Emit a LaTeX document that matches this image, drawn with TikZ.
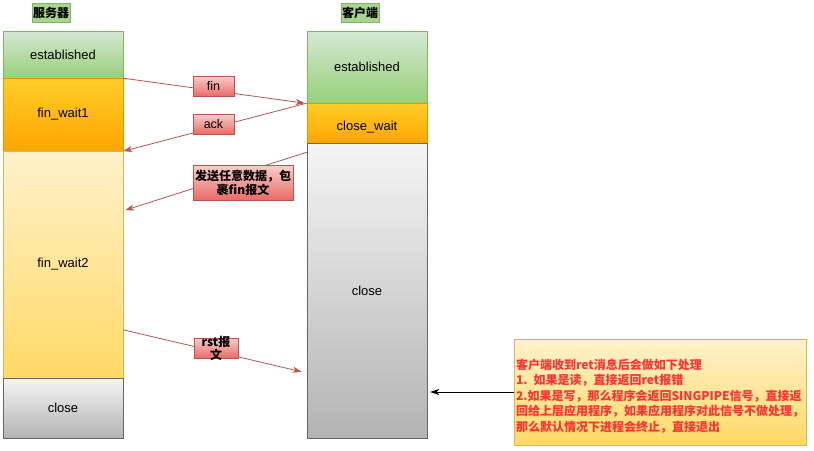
\documentclass[tikz,border=0pt]{standalone}
\usepackage{fontspec}
\setmainfont{Liberation Sans}
\newfontfamily\cjk{Noto Sans CJK SC}
\usetikzlibrary{arrows.meta,calc}
\definecolor{gtop}{HTML}{D5E8D4}
\definecolor{gbot}{HTML}{97D077}
\definecolor{gstroke}{HTML}{82B366}
\definecolor{otop}{HTML}{FFCD28}
\definecolor{obot}{HTML}{FFA500}
\definecolor{ostroke}{HTML}{D79B00}
\definecolor{ytop}{HTML}{FFF2CC}
\definecolor{ybot}{HTML}{FFD966}
\definecolor{ystroke}{HTML}{D6B656}
\definecolor{ktop}{HTML}{F5F5F5}
\definecolor{kbot}{HTML}{B3B3B3}
\definecolor{kstroke}{HTML}{666666}
\definecolor{rtop}{HTML}{F8CECC}
\definecolor{rbot}{HTML}{EA6B66}
\definecolor{rstroke}{HTML}{B85450}
\definecolor{notetext}{HTML}{FF3333}
\begin{document}
\begin{tikzpicture}[x=1pt,y=-1pt,
  statebox/.style={draw, minimum width=120pt, inner sep=0pt, font=\fontsize{13}{15}\selectfont},
  greenbox/.style={statebox, top color=gtop, bottom color=gbot, draw=gstroke},
  orangebox/.style={statebox, top color=otop, bottom color=obot, draw=ostroke},
  yellowbox/.style={statebox, top color=ytop, bottom color=ybot, draw=ystroke},
  greybox/.style={statebox, top color=ktop, bottom color=kbot, draw=kstroke},
  titlebox/.style={draw=gstroke, fill=gbot!75!gtop, minimum width=38pt, minimum height=19pt, inner sep=0pt, font=\cjk\bfseries\fontsize{12}{14}\selectfont},
  msgbox/.style={draw=rstroke, top color=rtop, bottom color=rbot, inner sep=0pt, font=\cjk\bfseries\fontsize{12}{14}\selectfont, align=center},
  redarrow/.style={draw=rstroke, line width=0.8pt, -{Stealth[length=9pt,width=6pt,inset=2.5pt]}},
  notebox/.style={draw=ystroke, top color=ytop, bottom color=ybot, minimum width=292pt, minimum height=106pt, inner sep=0pt},
  notetextstyle/.style={inner sep=0pt, text width=288pt, align=left, text=notetext, font=\cjk\bfseries\fontsize{12}{15.5}\selectfont}
]
\useasboundingbox (0,0) rectangle (814,450);

% titles
\node[titlebox] (tserver) at (51,12.5) {服务器};
\node[titlebox] (tclient) at (360,12.5) {客户端};

% server states
\node[greenbox, minimum height=47pt] (sest) at (63,54.5) {established};
\node[orangebox, minimum height=73pt] (sfw1) at (63,114.5) {fin\_wait1};
\node[yellowbox, minimum height=227pt] (sfw2) at (63,264.5) {fin\_wait2};
\node[greybox, minimum height=60pt] (sclose) at (63,408) {close};

% client states
\node[greenbox, minimum height=72pt] (cest) at (367,67) {established};
\node[orangebox, minimum height=40pt, label={[yshift=-4pt, font=\fontsize{13}{15}\selectfont]center:close\_wait}] (ccw) at (367,123) {};
\node[greybox, minimum height=295pt] (cclose) at (367,290.5) {close};

% arrows
\coordinate (finend) at ($(cest.south west)+(-2,0)$);
\draw[redarrow] (sest.south east) -- (finend);
\draw[redarrow] (cest.south west) -- (sfw1.south east);
\coordinate (datastart) at ($(ccw.south west)+(0,9)$);
\coordinate (dataend) at ($(sfw1.south east)+(2,59)$);
\draw[redarrow] (datastart) -- (dataend);
\coordinate (rststart) at ($(sfw2.north east)+(0,179)$);
\coordinate (rstend) at ($(cclose.north west)+(-5,229)$);
\draw[redarrow] (rststart) -- (rstend);

% message labels
\node[msgbox, minimum width=41pt, minimum height=20pt, font=\fontsize{12.5}{14}\selectfont] (lfin) at (213.5,86) {fin};
\node[msgbox, minimum width=41pt, minimum height=20pt, font=\fontsize{12.5}{14}\selectfont] (lack) at (213.5,124) {ack};
\node[msgbox, minimum width=100pt, minimum height=35pt] (ldata) at (243,182.5) {发送任意数据，包\\裹fin报文};
\node[msgbox, minimum width=44pt, minimum height=20pt] (lrst) at (216,348) {};
\node[font=\cjk\bfseries\fontsize{12}{13}\selectfont, align=center, inner sep=0pt] (lrsttext) at (lrst.center) {rst报\\文};

% note
\node[notebox] (note) at (660,392) {};
\node[notetextstyle] (notetxt) at ($(note.center)+(0,4)$) {客户端收到ret消息后会做如下处理\\1. 如果是读，直接返回ret报错\\2.如果是写，那么程序会返回SINGPIPE信号，直接返\\回给上层应用程序，如果应用程序对此信号不做处理，\\那么默认情况下进程会终止，直接退出};
\coordinate (noteend) at ($(note.west -| cclose.east)+(3,0)$);
\draw[line width=0.8pt, -{Stealth[length=9pt,width=6pt,inset=2.5pt]}] (note.west) -- (noteend);
\end{tikzpicture}
\end{document}
